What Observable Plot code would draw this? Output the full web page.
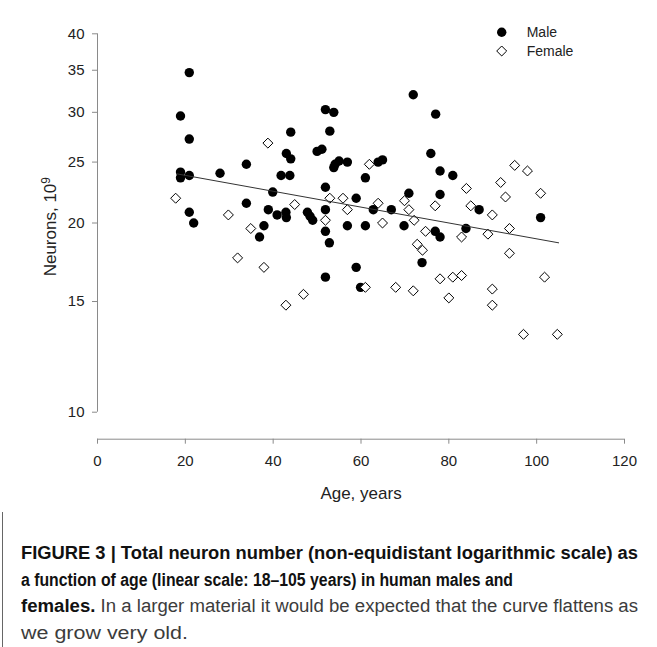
<!DOCTYPE html>
<html><head><meta charset="utf-8">
<script src="https://cdn.jsdelivr.net/npm/d3@7"></script>
<script src="https://cdn.jsdelivr.net/npm/@observablehq/plot@0.6"></script>
<style>
html,body{margin:0;padding:0;background:#fff;}
#wrap{position:relative;width:657px;height:647px;overflow:hidden;font-family:"Liberation Sans",Arial,sans-serif;}
#chart{position:absolute;left:0;top:0;}
#caption{position:absolute;left:2px;top:512px;width:655px;height:135px;border-left:1px solid #666;}
.cl{position:absolute;left:18px;display:inline-block;white-space:nowrap;font-size:18px;line-height:27px;transform-origin:0 50%;font-family:"Liberation Sans",Arial,sans-serif;color:#3c3c3c;}
.cl b{color:#111;font-weight:bold;}
</style></head>
<body>
<div id="wrap">
  <div id="chart"></div>
  <div id="caption">
    <span class="cl" data-w="617" style="top:27.5px"><b>FIGURE 3 | Total neuron number (non-equidistant logarithmic scale) as</b></span>
    <span class="cl" data-w="492" style="top:54.5px"><b>a function of age (linear scale: 18–105 years) in human males and</b></span>
    <span class="cl" data-w="617" style="top:80.5px"><b>females.</b> In a larger material it would be expected that the curve flattens as</span>
    <span class="cl" data-w="167" style="top:107.5px">we grow very old.</span>
  </div>
</div>
<script>
// ---- data ----
const maleAge = [20.9, 18.9, 20.9, 44.0, 43.0, 44.0, 33.9, 18.9, 18.9, 20.9, 27.9, 41.8, 43.8,
  20.9, 21.9, 33.9, 39.9, 37.9, 36.9, 38.9, 40.9, 42.9, 43.0,
  71.9, 51.9, 53.8, 52.9, 50.0, 51.1, 54.1, 55.0, 56.9, 53.8, 63.9, 64.9, 61.0, 51.9, 58.9, 70.9,
  47.8, 48.4, 49.0, 51.9, 62.8, 66.9, 51.9, 56.9, 61.0, 69.8, 52.8, 73.9, 58.9, 51.9, 59.9,
  77.0, 75.9, 78.0, 80.9, 78.0, 86.9, 76.9, 78.0, 83.9, 100.9];
const maleNeurons = [34.7, 29.6, 27.2, 27.9, 25.8, 25.3, 24.8, 24.1, 23.6, 23.8, 24.0, 23.8, 23.8,
  20.8, 20.0, 21.5, 22.4, 19.8, 19.0, 21.0, 20.6, 20.8, 20.4,
  32.0, 30.3, 30.0, 28.0, 26.0, 26.2, 24.8, 25.1, 25.0, 24.5, 25.0, 25.2, 23.6, 22.8, 21.9, 22.3,
  20.8, 20.5, 20.2, 21.0, 21.0, 21.0, 19.4, 19.8, 19.8, 19.8, 18.6, 17.3, 17.0, 16.4, 15.8,
  29.8, 25.8, 24.2, 23.8, 22.2, 21.0, 19.4, 19.0, 19.6, 20.4];
const femaleAge = [17.8, 38.8, 29.8, 34.9, 44.9, 31.9, 37.9, 42.9, 46.9,
  61.9, 52.9, 55.9, 51.9, 56.9, 63.9, 69.9, 70.9, 72.1, 64.9, 74.7, 72.8, 74.0, 61.0, 67.9, 71.9,
  95.0, 97.9, 84.0, 91.8, 100.9, 92.9, 76.9, 85.0, 89.9, 82.9, 88.9, 93.8, 93.8, 78.0, 80.9, 82.9,
  80.0, 101.8, 89.9, 89.9, 97.0, 104.7];
const femaleNeurons = [21.9, 26.8, 20.6, 19.6, 21.4, 17.6, 17.0, 14.8, 15.4,
  24.8, 21.9, 21.9, 20.2, 21.0, 21.5, 21.7, 21.0, 20.2, 20.0, 19.4, 18.5, 18.1, 15.8, 15.8, 15.6,
  24.7, 24.2, 22.7, 23.2, 22.3, 22.0, 21.3, 21.3, 20.6, 19.0, 19.2, 19.6, 17.9, 16.3, 16.4, 16.5,
  15.2, 16.4, 15.7, 14.8, 13.3, 13.3];
const trendAge = [18, 105];
const trendNeurons = [23.95, 18.6];
const xTicks = [0, 20, 40, 60, 80, 100, 120];
const yTicks = [10, 15, 20, 25, 30, 35, 40];
const legendLabels = ["Male", "Female"];
const xTitle = "Age, years";
const yTitle = "Neurons, 10";
const yTitleSup = "9";

const male = maleAge.map((a, i) => ({age: a, neurons: maleNeurons[i]}));
const female = femaleAge.map((a, i) => ({age: a, neurons: femaleNeurons[i]}));
const trend = trendAge.map((a, i) => ({age: a, neurons: trendNeurons[i]}));

const W = 657, H = 512;
const axisGray = "#8a8a8a";
const plot = Plot.plot({
  width: W, height: H,
  marginLeft: 97, marginRight: 33, marginTop: 33.3, marginBottom: H - 411.7,
  style: {fontFamily: '"Liberation Sans", Arial, sans-serif', fontSize: "15px", background: "white", overflow: "visible"},
  x: {type: "linear", domain: [0, 120]},
  y: {type: "log", domain: [10, 40]},
  marks: [
    Plot.ruleX([0], {stroke: axisGray}),
    Plot.ruleY([10], {stroke: axisGray, dy: 27}),
    Plot.axisY({ticks: yTicks, tickFormat: d => String(d), tickSize: 5, tickPadding: 8, stroke: axisGray, fill: "#222", label: null}),
    Plot.axisX({ticks: xTicks, tickFormat: d => String(d), tickSize: 5, tickPadding: 11, dy: 27, stroke: axisGray, fill: "#222", label: null}),
    Plot.dot(male, {x: "age", y: "neurons", r: 4.7, fill: "black", stroke: "none"}),
    Plot.dot(female, {x: "age", y: "neurons", symbol: "diamond2", r: 4.5, fill: "white", stroke: "black", strokeWidth: 1}),
    Plot.line(trend, {x: "age", y: "neurons", stroke: "#333", strokeWidth: 1}),
    Plot.text([xTitle], {text: d => d, frameAnchor: "bottom", lineAnchor: "middle", dy: 81, fontSize: 17, fill: "#222"})
  ]
});
document.getElementById("chart").appendChild(plot);

const svg = d3.select(plot);
// y-axis title with superscript
const yt = svg.append("text")
  .attr("transform", "translate(55.5,226.7) rotate(-90)")
  .attr("text-anchor", "middle")
  .attr("font-size", 17)
  .attr("fill", "#222");
yt.append("tspan").text(yTitle);
yt.append("tspan").attr("dy", "-0.45em").attr("font-size", "0.7em").text(yTitleSup);

// legend
const lg = svg.append("g").attr("font-size", 14).attr("fill", "#222").attr("text-anchor", "start");
const lx = 501.7, ly = [32.3, 51];
lg.append("circle").attr("cx", lx).attr("cy", ly[0]).attr("r", 4.7).attr("fill", "black");
lg.append("path").attr("transform", `translate(${lx},${ly[1]})`)
  .attr("d", d3.symbol(d3.symbolDiamond2, Math.PI * 4.5 * 4.5)())
  .attr("fill", "white").attr("stroke", "black").attr("stroke-width", 1);
legendLabels.forEach((lab, i) => {
  lg.append("text").attr("x", 526.7).attr("y", ly[i]).attr("dy", "0.35em").attr("text-anchor", "start").text(lab);
});

// fit caption lines
document.querySelectorAll(".cl").forEach(el => {
  const w = el.getBoundingClientRect().width;
  const t = +el.dataset.w;
  if (w > 0) el.style.transform = `scaleX(${t / w})`;
});
</script>
</body></html>
